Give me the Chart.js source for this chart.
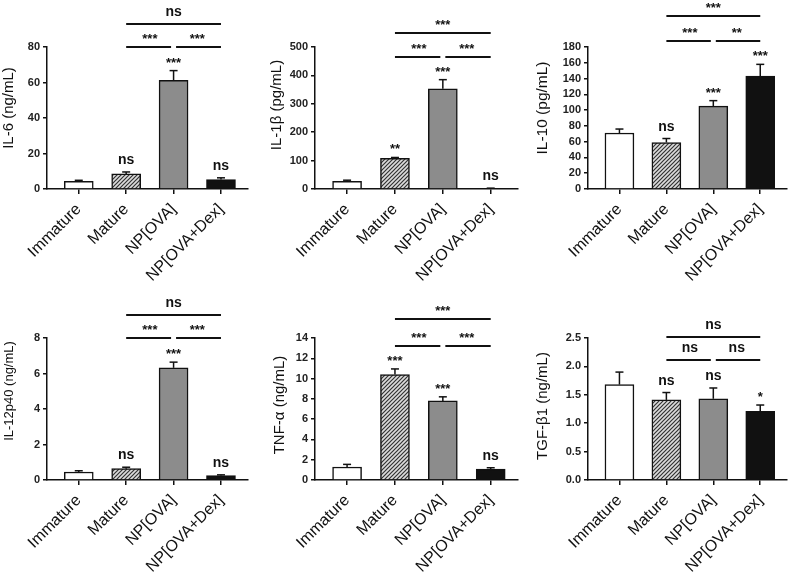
<!DOCTYPE html>
<html>
<head>
<meta charset="utf-8">
<script src="https://cdn.jsdelivr.net/npm/chart.js@4.4.1/dist/chart.umd.min.js"></script>
<style>
  html, body { margin: 0; padding: 0; background: #fff; }
  #wrap { position: relative; width: 792px; height: 576px; overflow: hidden; }
  #wrap canvas { position: absolute; }
</style>
</head>
<body>
<div id="wrap"></div>
<script>
// groups on the x axis
const groups = ['Immature', 'Mature', 'NP[OVA]', 'NP[OVA+Dex]'];

// IL-6 (ng/mL)
const il6Mean = [4.3, 8.5, 61.2, 5.3];
const il6Err = [0.6, 1.1, 5.5, 1.0];
const il6Marks = ['', 'ns', '***', 'ns'];
const il6Pairs = ['ns', '***', '***'];

// IL-1b (pg/mL)
const il1bMean = [27, 108, 353, 2];
const il1bErr = [4, 3, 32, 1];
const il1bMarks = ['', '**', '***', 'ns'];
const il1bPairs = ['***', '***', '***'];

// IL-10 (pg/mL)
const il10Mean = [71, 59, 105, 143];
const il10Err = [5, 5, 7, 15];
const il10Marks = ['', 'ns', '***', '***'];
const il10Pairs = ['***', '***', '**'];

// IL-12p40 (ng/mL)
const il12Mean = [0.45, 0.64, 6.32, 0.25];
const il12Err = [0.07, 0.08, 0.32, 0.04];
const il12Marks = ['', 'ns', '***', 'ns'];
const il12Pairs = ['ns', '***', '***'];

// TNF-a (ng/mL)
const tnfMean = [1.28, 10.4, 7.8, 1.08];
const tnfErr = [0.26, 0.55, 0.4, 0.13];
const tnfMarks = ['', '***', '***', 'ns'];
const tnfPairs = ['***', '***', '***'];

// TGF-b1 (ng/mL)
const tgfMean = [1.68, 1.41, 1.43, 1.21];
const tgfErr = [0.22, 0.13, 0.19, 0.11];
const tgfMarks = ['', 'ns', 'ns', '*'];
const tgfPairs = ['ns', 'ns', 'ns'];

// y axis ranges
const yMax = [80, 500, 180, 8, 14, 2.5];
const yStep = [20, 100, 20, 2, 2, 0.5];
const yTitles = ['IL-6 (ng/mL)', 'IL-1β (pg/mL)', 'IL-10 (pg/mL)', 'IL-12p40 (ng/mL)', 'TNF-α (ng/mL)', 'TGF-β1 (ng/mL)'];

const FONT = 'Arial, "Liberation Sans", sans-serif';
Chart.defaults.font.family = FONT;

const panels = [
  { mean: il6Mean, err: il6Err, marks: il6Marks, pairs: il6Pairs, x0: 0, y0: 0, yw: 47, right: 16, top: 47, xh: 99, tx: 9, ty: 108, ts: 15, brk: [-23, 0] },
  { mean: il1bMean, err: il1bErr, marks: il1bMarks, pairs: il1bPairs, x0: 264, y0: 0, yw: 51, right: 10, top: 47, xh: 99, tx: 13, ty: 105, ts: 15, brk: [-14, 10] },
  { mean: il10Mean, err: il10Err, marks: il10Marks, pairs: il10Pairs, x0: 528, y0: 0, yw: 60, right: 5, top: 47, xh: 99, tx: 15, ty: 108, ts: 15.5, brk: [-31, -6] },
  { mean: il12Mean, err: il12Err, marks: il12Marks, pairs: il12Pairs, x0: 0, y0: 288, yw: 47, right: 16, top: 50, xh: 96, tx: 9, ty: 103, ts: 13, brk: [-23, 0] },
  { mean: tnfMean, err: tnfErr, marks: tnfMarks, pairs: tnfPairs, x0: 264, y0: 288, yw: 51, right: 10, top: 50, xh: 96, tx: 16, ty: 117, ts: 15, brk: [-19, 8] },
  { mean: tgfMean, err: tgfErr, marks: tgfMarks, pairs: tgfPairs, x0: 528, y0: 288, yw: 60, right: 5, top: 50, xh: 96, tx: 15, ty: 118, ts: 15, brk: [-1, 22] }
];

function makeHatch(ctx) {
  const c = document.createElement('canvas');
  c.width = 4; c.height = 4;
  const g = c.getContext('2d');
  g.fillStyle = '#dcdcdc';
  g.fillRect(0, 0, 4, 4);
  g.strokeStyle = '#333';
  g.lineWidth = 1.2;
  g.beginPath();
  g.moveTo(-1, 5); g.lineTo(5, -1);
  g.moveTo(-1, 1); g.lineTo(1, -1);
  g.moveTo(3, 5); g.lineTo(5, 3);
  g.stroke();
  return ctx.createPattern(c, 'repeat');
}

function makePanel(p, idx) {
  const canvas = document.createElement('canvas');
  canvas.width = 264;
  canvas.height = 288;
  canvas.style.left = p.x0 + 'px';
  canvas.style.top = p.y0 + 'px';
  document.getElementById('wrap').appendChild(canvas);
  const ctx = canvas.getContext('2d');
  const fills = ['#ffffff', makeHatch(ctx), '#8c8c8c', '#111111'];

  // error bars, significance marks, brackets and y title
  const annot = {
    id: 'annot' + idx,
    afterDatasetsDraw(chart) {
      const c = chart.ctx;
      const a = chart.chartArea;
      const xs = chart.scales.x, ys = chart.scales.y;
      const line = (x1, y1, x2, y2) => { c.beginPath(); c.moveTo(x1, y1); c.lineTo(x2, y2); c.stroke(); };
      const label = (t, cx, cy) => {
        const star = t.indexOf('*') >= 0;
        const fs = star ? 13 : 14;
        c.font = 'bold ' + fs + 'px ' + FONT;
        c.fillStyle = '#111';
        c.textAlign = 'center';
        c.textBaseline = 'alphabetic';
        c.fillText(t, cx, cy + (star ? 0.57 : 0.26) * fs);
      };
      c.save();
      c.strokeStyle = '#111';
      c.lineWidth = 1.5;
      p.mean.forEach((m, i) => {
        const cx = xs.getPixelForValue(i);
        const yb = ys.getPixelForValue(m);
        const yt = ys.getPixelForValue(m + p.err[i]);
        line(cx, yb, cx, yt);
        line(cx - 4, yt, cx + 4, yt);
        if (p.marks[i]) label(p.marks[i], cx, yt - 11.5);
      });
      const x1 = xs.getPixelForValue(1), x2 = xs.getPixelForValue(2), x3 = xs.getPixelForValue(3);
      const yTop = a.top + p.brk[0], yLow = a.top + p.brk[1];
      c.lineWidth = 1.8;
      line(x1, yTop, x3, yTop);
      line(x1, yLow, x2 - 2.5, yLow);
      line(x2 + 2.5, yLow, x3, yLow);
      label(p.pairs[0], (x1 + x3) / 2, yTop - 11.5);
      label(p.pairs[1], (x1 + x2) / 2, yLow - 11.5);
      label(p.pairs[2], (x2 + x3) / 2, yLow - 11.5);

      c.translate(p.tx, p.ty);
      c.rotate(-Math.PI / 2);
      c.font = p.ts + 'px ' + FONT;
      c.fillStyle = '#111';
      c.textAlign = 'center';
      c.textBaseline = 'middle';
      c.fillText(yTitles[idx], 0, 0);
      c.restore();
    }
  };

  new Chart(ctx, {
    type: 'bar',
    data: {
      datasets: [{
        data: p.mean.map((v, i) => ({ x: i, y: v })),
        backgroundColor: fills,
        borderColor: '#111',
        borderWidth: 1.5,
        barThickness: 29
      }]
    },
    options: {
      responsive: false,
      animation: false,
      events: [],
      layout: { padding: { left: 0, top: p.top, right: p.right, bottom: 0 } },
      plugins: { legend: { display: false }, tooltip: { enabled: false } },
      scales: {
        x: {
          type: 'linear',
          min: -0.67,
          max: 3.57,
          bounds: 'data',
          offset: false,
          afterBuildTicks: s => { s.ticks = groups.map((g, i) => ({ value: i })); },
          afterFit: s => { s.height = p.xh; },
          ticks: {
            callback: v => groups[v],
            minRotation: 45,
            maxRotation: 45,
            autoSkip: false,
            padding: 6,
            color: '#111',
            font: { size: 16 }
          },
          grid: { display: true, offset: false, drawOnChartArea: false, drawTicks: true, tickLength: 5, color: '#111', lineWidth: 1.5 },
          border: { display: true, color: '#111', width: 1.5 }
        },
        y: {
          min: 0,
          max: yMax[idx],
          afterFit: s => { s.width = p.yw; },
          ticks: {
            stepSize: yStep[idx],
            autoSkip: false,
            callback: v => (idx === 5 ? v.toFixed(1) : v),
            color: '#222',
            padding: 3,
            font: { size: 11, weight: 'bold' }
          },
          grid: { drawOnChartArea: false, drawTicks: true, tickLength: 4, color: '#111', lineWidth: 1.5 },
          border: { display: true, color: '#111', width: 1.5 }
        }
      }
    },
    plugins: [annot]
  });
}

panels.forEach(makePanel);
</script>
</body>
</html>
